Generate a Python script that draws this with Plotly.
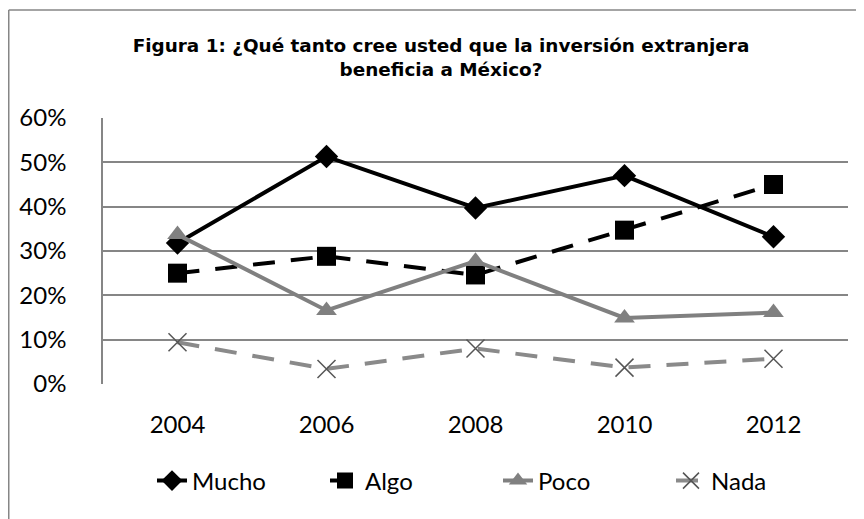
import plotly.graph_objects as go

years = ["2004", "2006", "2008", "2010", "2012"]
mucho = [0.318, 0.513, 0.397, 0.470, 0.332]
algo = [0.250, 0.288, 0.246, 0.347, 0.450]
poco = [0.337, 0.166, 0.277, 0.149, 0.161]
nada = [0.094, 0.034, 0.080, 0.037, 0.057]
yticks = [0, 0.1, 0.2, 0.3, 0.4, 0.5, 0.6]
ytick_text = ["0%", "10%", "20%", "30%", "40%", "50%", "60%"]
title_text = "Figura 1: ¿Qué tanto cree usted que la inversión extranjera<br>beneficia a México?"

# page body has an 8px margin, so the figure is drawn 8px right/down
W, H = 856, 511
L, R, T, B = 95, 16, 110, 135

fig = go.Figure()
fig.add_trace(go.Scatter(x=years, y=mucho, name="Mucho", mode="lines+markers",
                         line=dict(color="black", width=4),
                         marker=dict(symbol="diamond", size=18, color="black")))
fig.add_trace(go.Scatter(x=years, y=algo, name="Algo", mode="lines+markers",
                         line=dict(color="black", width=4, dash="22px,16px"),
                         marker=dict(symbol="square", size=19, color="black")))
fig.add_trace(go.Scatter(x=years, y=poco, name="Poco", mode="lines+markers",
                         line=dict(color="#808080", width=4),
                         marker=dict(symbol="triangle-up", size=18, color="#808080")))
fig.add_trace(go.Scatter(x=years, y=nada, name="Nada", mode="lines+markers",
                         line=dict(color="#8a8a8a", width=4, dash="22px,16px"),
                         marker=dict(symbol="x-thin", size=18, color="#555555",
                                     line=dict(color="#555555", width=1.5))))

pw = W - L - R
ph = H - T - B
def px(x):
    return (x - L) / pw
def py(y):
    return (H - B - y) / ph

fig.add_shape(type="line", xref="paper", yref="paper",
              x0=px(0.75), x1=px(900), y0=py(2), y1=py(2),
              line=dict(color="#868686", width=1.5))
fig.add_shape(type="line", xref="paper", yref="paper",
              x0=px(0.75), x1=px(0.75), y0=py(2), y1=py(560),
              line=dict(color="#868686", width=1.5))

fig.update_layout(
    width=W, height=H,
    margin=dict(l=L, r=R, t=T, b=B, autoexpand=False),
    paper_bgcolor="white", plot_bgcolor="white",
    font=dict(family="Lato", size=24, color="black"),
    title=dict(text=title_text, xref="container", yref="container",
               x=433 / W, xanchor="center", y=1 - 44 / H, yanchor="top",
               font=dict(family="DejaVu Sans", size=18.4, color="black", weight="bold")),
    xaxis=dict(type="category", range=[-0.5, 4.5], showgrid=False,
               showline=False, ticks="", ticklabelstandoff=24,
               tickfont=dict(size=24), zeroline=False, automargin=False),
    yaxis=dict(range=[0, 0.6], tickvals=yticks, ticktext=ytick_text,
               showgrid=True, gridcolor="#868686", gridwidth=1.5,
               showline=True, linecolor="#868686", linewidth=1.5,
               ticks="", ticklabelstandoff=30, zeroline=False,
               tickfont=dict(size=24), automargin=False),
    legend=dict(orientation="h", x=490 / W, xref="container", xanchor="center",
                y=(H - 473) / H, yref="container", yanchor="middle",
                font=dict(size=24), itemwidth=30, entrywidth=128,
                tracegroupgap=0),
    showlegend=True,
)

fig.write_html("out.html")
